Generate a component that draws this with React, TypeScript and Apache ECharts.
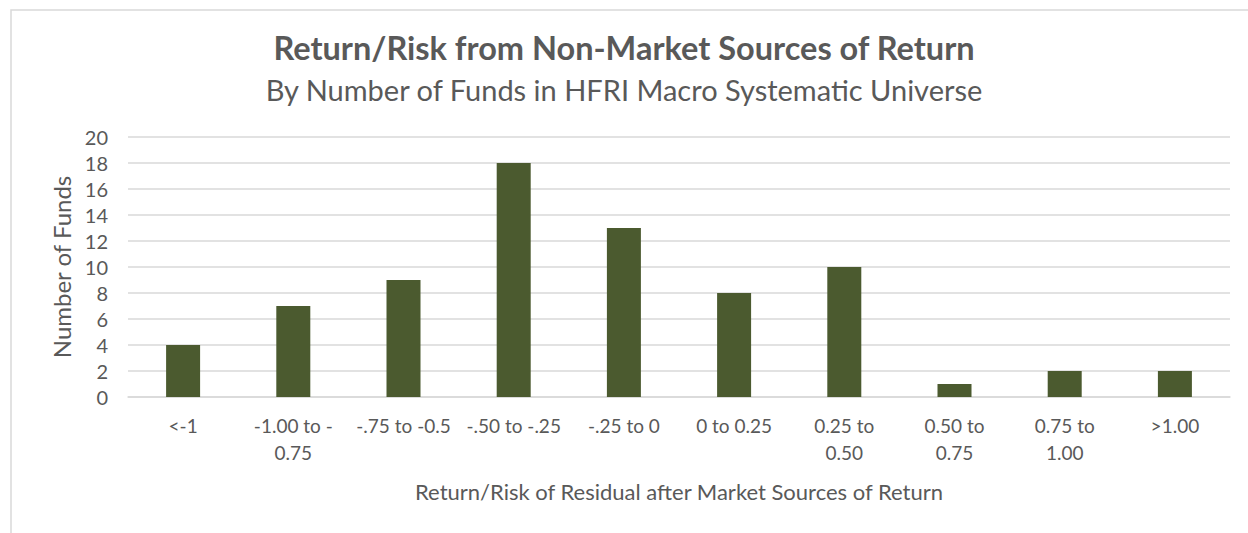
import React, { useEffect, useRef } from "react";
import * as echarts from "echarts";

const categories = [
  "<-1",
  "-1.00 to -0.75",
  "-.75 to -0.5",
  "-.50 to -.25",
  "-.25 to 0",
  "0 to 0.25",
  "0.25 to 0.50",
  "0.50 to 0.75",
  "0.75 to 1.00",
  ">1.00",
];
const tickLabels = [
  "<-1",
  "-1.00 to -\n0.75",
  "-.75 to -0.5",
  "-.50 to -.25",
  "-.25 to 0",
  "0 to 0.25",
  "0.25 to\n0.50",
  "0.50 to\n0.75",
  "0.75 to\n1.00",
  ">1.00",
];
const fundCounts = [4, 7, 9, 18, 13, 8, 10, 1, 2, 2];

const titleText = "Return/Risk from Non-Market Sources of Return";
const subtitleText = "By Number of Funds in HFRI Macro Systematic Universe";
const xAxisTitle = "Return/Risk of Residual after Market Sources of Return";
const yAxisTitle = "Number of Funds";

const FONT = "Lato, 'Open Sans', sans-serif";
const TEXT = "#595959";

export default function App() {
  const ref = useRef<HTMLDivElement>(null);
  useEffect(() => {
    if (!ref.current) return;
    const chart = echarts.init(ref.current, undefined, { renderer: "svg" });
    chart.setOption({
      animation: false,
      backgroundColor: "#ffffff",
      textStyle: { fontFamily: FONT, color: TEXT },
      graphic: [
        {
          type: "rect",
          shape: { x: 11, y: 10, width: 1300, height: 600 },
          style: { fill: "none", stroke: "#D9D9D9", lineWidth: 1.5 },
          silent: true,
        },
      ],
      title: {
        text: titleText,
        subtext: subtitleText,
        left: "center",
        top: 26,
        itemGap: 11,
        textStyle: { fontFamily: FONT, fontSize: 32.5, fontWeight: "bold", color: TEXT },
        subtextStyle: { fontFamily: FONT, fontSize: 29, color: TEXT },
      },
      grid: { left: 128, right: 18, top: 137, bottom: 136 },
      xAxis: {
        type: "category",
        data: categories,
        name: xAxisTitle,
        nameLocation: "middle",
        nameGap: 83,
        nameTextStyle: { fontFamily: FONT, fontSize: 22, color: TEXT },
        axisLine: { lineStyle: { color: "#D9D9D9", width: 1.5 } },
        axisTick: { show: false },
        axisLabel: {
          interval: 0,
          margin: 15,
          fontFamily: FONT,
          fontSize: 19,
          lineHeight: 27,
          color: TEXT,
          formatter: (_v: string, i: number) => tickLabels[i],
        },
      },
      yAxis: {
        type: "value",
        min: 0,
        max: 20,
        interval: 2,
        name: yAxisTitle,
        nameLocation: "middle",
        nameGap: 50,
        nameTextStyle: { fontFamily: FONT, fontSize: 24, color: TEXT },
        axisLine: { show: false },
        axisTick: { show: false },
        axisLabel: { fontFamily: FONT, fontSize: 20, color: TEXT, margin: 20 },
        splitLine: { lineStyle: { color: "#D9D9D9", width: 1.5 } },
      },
      series: [
        {
          type: "bar",
          data: fundCounts,
          barWidth: 34,
          itemStyle: { color: "#4B5A2F" },
        },
      ],
    });
    return () => chart.dispose();
  }, []);
  return (
    <div
      ref={ref}
      style={{ position: "fixed", left: 0, top: 0, width: 1248, height: 533 }}
    />
  );
}
